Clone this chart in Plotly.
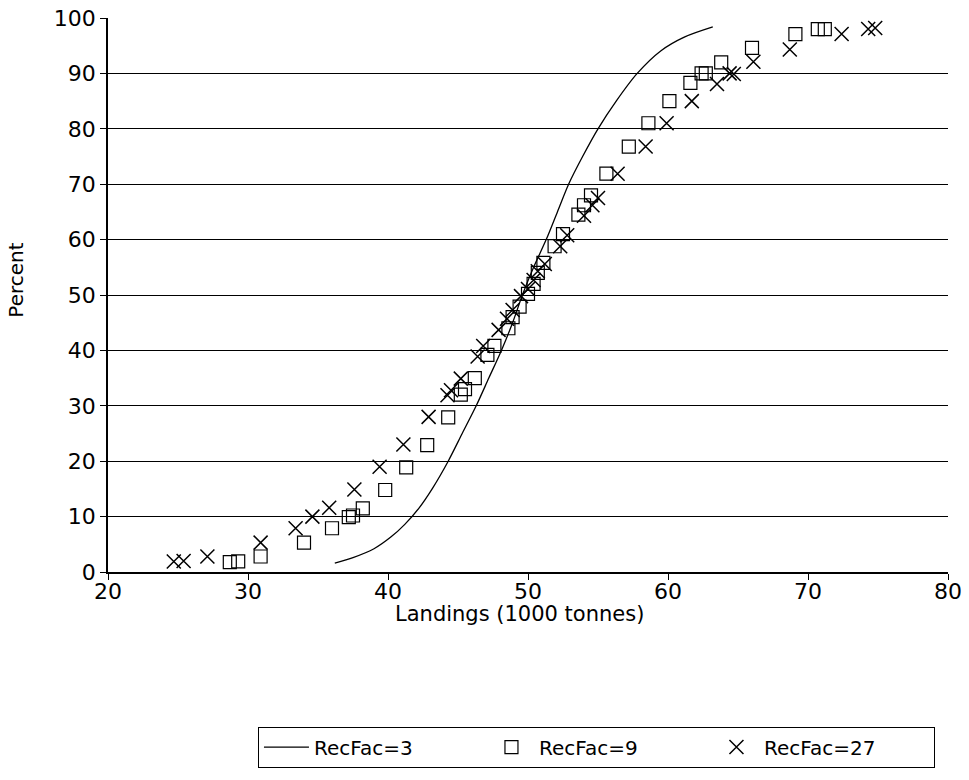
import plotly.graph_objects as go

# RecFac=3 : smooth cumulative curve
rf3_x = [36.2, 37.5, 39.0, 40.2, 41.2, 42.2, 43.2, 44.3, 45.3, 46.3, 47.2, 48.1, 48.9, 49.6,
         50.4, 51.3, 52.1, 52.9, 53.9, 55.0, 56.3, 57.8, 59.5, 61.2, 63.2]
rf3_y = [1.6, 2.6, 4.2, 6.3, 8.6, 11.5, 15.2, 20.0, 25.0, 30.0, 35.0, 40.0, 45.0, 50.0,
         55.0, 60.0, 65.0, 70.0, 75.0, 80.0, 85.0, 90.0, 94.1, 96.6, 98.4]

# RecFac=9 : squares
rf9_x = [28.7, 29.3, 30.9, 34.0, 36.0, 37.2, 37.5, 38.2, 39.8, 41.3, 42.8, 44.3, 45.2, 45.5,
         46.2, 47.1, 47.6, 48.6, 48.9, 49.4, 50.0, 50.4, 50.7, 51.1, 51.9, 52.5, 53.6, 54.0,
         54.5, 55.6, 57.2, 58.6, 60.1, 61.6, 62.4, 62.7, 63.8, 66.0, 69.1, 70.7, 71.2]
rf9_y = [1.8, 1.9, 2.8, 5.3, 7.9, 9.9, 10.2, 11.5, 14.8, 18.9, 22.9, 27.9, 32.0, 33.0,
         35.0, 39.2, 40.8, 44.0, 46.0, 47.9, 50.2, 52.0, 54.0, 55.8, 58.8, 61.0, 64.5, 66.2,
         68.0, 71.9, 76.8, 81.0, 85.0, 88.3, 90.0, 90.0, 92.0, 94.6, 97.1, 98.0, 98.0]

# RecFac=27 : crosses
rf27_x = [24.7, 25.4, 27.1, 30.9, 33.4, 34.6, 35.8, 37.6, 39.4, 41.1, 42.9, 44.25, 44.5, 45.2,
          46.4, 46.8, 47.9, 48.5, 48.9, 49.5, 50.0, 50.4, 50.7, 51.2, 52.3, 52.8, 54.0, 54.6,
          55.0, 56.4, 58.4, 59.9, 61.7, 63.5, 64.4, 64.7, 66.1, 68.7, 72.4, 74.3, 74.8]
rf27_y = [1.9, 2.0, 2.8, 5.3, 7.9, 10.0, 11.6, 14.9, 19.0, 23.0, 28.0, 31.9, 32.8, 34.9,
          38.9, 40.8, 43.7, 45.7, 47.3, 49.8, 51.1, 52.7, 54.3, 55.6, 58.8, 60.8, 64.3, 66.2,
          67.5, 71.9, 76.8, 81.0, 85.0, 88.1, 90.0, 89.9, 92.1, 94.3, 97.1, 98.0, 98.2]

x_ticks = [20, 30, 40, 50, 60, 70, 80]
y_ticks = [0, 10, 20, 30, 40, 50, 60, 70, 80, 90, 100]
x_title = "Landings (1000 tonnes)"
y_title = "Percent"

FONT = "DejaVu Sans"

fig = go.Figure()
fig.add_trace(go.Scatter(x=rf3_x, y=rf3_y, mode="lines", name="RecFac=3",
                         line=dict(color="black", width=1.3, shape="spline", smoothing=0.8)))
fig.add_trace(go.Scatter(x=rf9_x, y=rf9_y, mode="markers", name="RecFac=9",
                         marker=dict(symbol="square-open", size=13, color="black",
                                     line=dict(width=1.2, color="black"))))
fig.add_trace(go.Scatter(x=rf27_x, y=rf27_y, mode="markers", name="RecFac=27",
                         marker=dict(symbol="x-thin-open", size=14, color="black",
                                     line=dict(width=1.5, color="black"))))

fig.update_layout(
    width=969, height=780,
    margin=dict(l=108, r=21, t=18, b=208, autoexpand=False),
    paper_bgcolor="white", plot_bgcolor="white",
    font=dict(family=FONT, size=18, color="black"),
    showlegend=True,
    legend=dict(orientation="h", x=0.5815, y=-0.316, xanchor="center", yanchor="middle",
                bordercolor="black", borderwidth=1, bgcolor="white",
                font=dict(family=FONT, size=20, color="black"),
                entrywidth=165, entrywidthmode="pixels", itemwidth=45),
    annotations=[
        dict(text=x_title, xref="paper", yref="paper", x=0.49, y=-0.076,
             xanchor="center", yanchor="middle", showarrow=False,
             font=dict(family=FONT, size=21, color="black")),
        dict(text=y_title, xref="paper", yref="paper", x=-0.110, y=0.527,
             xanchor="center", yanchor="middle", showarrow=False, textangle=-90,
             font=dict(family=FONT, size=20, color="black")),
    ],
)
fig.update_xaxes(range=[20, 80], tickvals=x_ticks, ticktext=[str(v) for v in x_ticks],
                 showline=True, linecolor="black", linewidth=1.5, mirror=False,
                 ticks="outside", ticklen=6, tickcolor="black", showgrid=False,
                 zeroline=False, automargin=False, ticklabelstandoff=-7,
                 tickfont=dict(size=22))
fig.update_yaxes(range=[0, 100], tickvals=y_ticks, ticktext=[str(v) for v in y_ticks],
                 showline=True, linecolor="black", linewidth=1.5,
                 ticks="outside", ticklen=6, tickcolor="black",
                 showgrid=True, gridcolor="black", gridwidth=1, zeroline=False,
                 automargin=False, tickfont=dict(size=22))

fig.write_html("out.html")
